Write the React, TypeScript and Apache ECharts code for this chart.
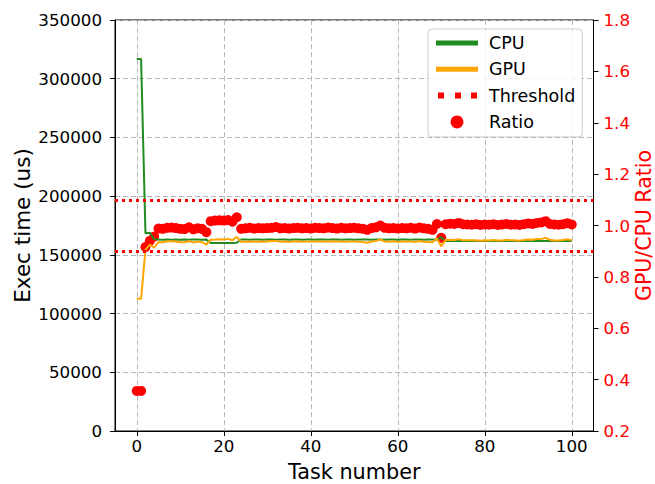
import React, { useEffect, useRef } from "react";
import * as echarts from "echarts";

const FONT = "DejaVu Sans";

const taskNumbers: number[] = Array.from({ length: 101 }, (_, i) => i);

const cpuTime: number[] = [
  316700, 316700, 168500, 168800, 163200, 163000, 162900, 163100, 162900, 163000,
  162800, 163100, 162900, 163000, 163100, 162900, 163000, 160200, 160000, 160100,
  160000, 160200, 160100, 160300, 163100, 163000, 162900, 163100, 163000, 162900,
  163000, 163100, 162900, 163000, 163100, 162900, 163000, 163100, 162900, 163000,
  163100, 162900, 163000, 163100, 162900, 163000, 163100, 162900, 163000, 163100,
  162900, 163000, 163100, 163000, 162900, 163000, 163100, 162900, 163000, 163100,
  162900, 163000, 163100, 162900, 163000, 163100, 162900, 163000, 163100, 162900,
  165000, 161800, 161700, 161900, 161800, 161700, 161800, 161900, 161700, 161800,
  161900, 161700, 161800, 161900, 161700, 161800, 161900, 161700, 161800, 161900,
  161700, 161800, 161900, 161700, 161800, 161900, 161700, 161800, 161900, 161700,
  161800,
];

const gpuTime: number[] = [
  112700, 112700, 154300, 158700, 156200, 161000, 160800, 161600, 161600, 161400,
  160700, 160800, 161800, 160600, 161300, 160800, 158800, 162900, 163000, 163300,
  163000, 163600, 162500, 165400, 161000, 161200, 161400, 161100, 161400, 161100,
  161400, 161700, 161900, 161100, 161400, 161000, 161400, 161600, 161100, 161400,
  161300, 161400, 161400, 161300, 161600, 161400, 161300, 161400, 161100, 161400,
  161400, 161100, 161000, 160300, 161300, 161900, 163100, 161400, 161100, 161500,
  161000, 161400, 161300, 161400, 161000, 161800, 161100, 160900, 160700, 163900,
  157100, 162600, 162800, 162700, 163400, 162500, 162400, 162400, 162500, 162100,
  162500, 162200, 162600, 162200, 162300, 162800, 162400, 162400, 162100, 162700,
  163000, 162800, 163500, 163600, 164500, 162900, 162300, 162300, 162700, 163200,
  162400,
];

const ratioValues: number[] = [
  0.356, 0.356, 0.916, 0.94, 0.957, 0.988, 0.987, 0.991, 0.992, 0.99,
  0.987, 0.986, 0.993, 0.985, 0.989, 0.987, 0.974, 1.017, 1.019, 1.02,
  1.019, 1.021, 1.015, 1.032, 0.987, 0.989, 0.991, 0.988, 0.99, 0.989,
  0.99, 0.991, 0.994, 0.989, 0.99, 0.988, 0.99, 0.991, 0.989, 0.99,
  0.988, 0.991, 0.99, 0.989, 0.992, 0.99, 0.988, 0.991, 0.989, 0.99,
  0.991, 0.989, 0.987, 0.983, 0.99, 0.993, 1.0, 0.991, 0.989, 0.99,
  0.988, 0.99, 0.989, 0.991, 0.988, 0.992, 0.989, 0.987, 0.983, 1.006,
  0.952, 1.005, 1.007, 1.006, 1.01, 1.005, 1.004, 1.003, 1.005, 1.002,
  1.004, 1.003, 1.005, 1.002, 1.004, 1.006, 1.003, 1.004, 1.002, 1.005,
  1.008, 1.006, 1.01, 1.012, 1.017, 1.006, 1.004, 1.003, 1.005, 1.009,
  1.004,
];

const thresholds: number[] = [0.9, 1.1];
const xTickValues: number[] = [0, 20, 40, 60, 80, 100];
const seriesNames: string[] = ["CPU", "GPU", "Threshold", "Ratio"];

const GREEN = "#228B22";
const ORANGE = "#FFA500";
const RED = "#FF0000";

export default function App() {
  const ref = useRef<HTMLDivElement>(null);
  useEffect(() => {
    document.body.style.margin = "0";
    if (!ref.current) return;
    const chart = echarts.init(ref.current, undefined, { renderer: "svg" });
    const grid = "#b8b8b8";
    const option: any = {
      animation: false,
      textStyle: { fontFamily: FONT },
      grid: {
        left: 115,
        right: 61.5,
        top: 20,
        bottom: 53,
        show: true,
        borderColor: "#000",
        borderWidth: 1,
        backgroundColor: "transparent",
        containLabel: false,
        outerBoundsMode: "none",
      },
      legend: {
        orient: "vertical",
        left: 428,
        top: 29,
        padding: [4, 7, 5, 8],
        itemWidth: 48,
        itemHeight: 20,
        itemGap: 6.3,
        selectedMode: false,
        backgroundColor: "rgba(255,255,255,0.8)",
        borderColor: "#cccccc",
        borderWidth: 1,
        borderRadius: 4,
        itemStyle: { borderWidth: 0 },
        textStyle: { fontSize: 17.5, color: "#000", fontFamily: FONT, lineHeight: 20 },
        data: [
          {
            name: seriesNames[0],
            icon: "path://M0,0M48,20M0,7.5L42,7.5L42,12.5L0,12.5Z",
            itemStyle: { color: GREEN, borderWidth: 0 },
          },
          {
            name: seriesNames[1],
            icon: "path://M0,0M48,20M0,7.5L42,7.5L42,12.5L0,12.5Z",
            itemStyle: { color: ORANGE, borderWidth: 0 },
          },
          {
            name: seriesNames[2],
            icon: "path://M0,0M48,20M2,7L8,7L8,13L2,13ZM19,7L25,7L25,13L19,13ZM35,7L41,7L41,13L35,13Z",
            itemStyle: { color: RED, borderWidth: 0 },
          },
          {
            name: seriesNames[3],
            icon: "path://M0,0M48,20M14.5,10A6.5,6.5,0,1,0,27.5,10A6.5,6.5,0,1,0,14.5,10Z",
            itemStyle: { color: RED, borderWidth: 0 },
          },
        ],
      },
      xAxis: {
        type: "value",
        min: -5,
        max: 105,
        name: "Task number",
        nameLocation: "middle",
        nameGap: 30,
        nameMoveOverlap: false,
        nameTextStyle: { fontSize: 20.8, color: "#000", fontFamily: FONT },
        axisLine: { show: true, onZero: false, lineStyle: { color: "#000", width: 1 } },
        axisTick: { show: true, length: 5, lineStyle: { color: "#000" }, customValues: xTickValues },
        axisLabel: {
          customValues: xTickValues,
          fontSize: 16.7,
          color: "#000",
          margin: 6,
          fontFamily: FONT,
          formatter: (v: number) => String(v),
        },
        splitLine: { show: true, lineStyle: { color: grid, type: [5, 3], width: 1 } },
      },
      yAxis: [
        {
          type: "value",
          position: "left",
          min: 0,
          max: 350000,
          interval: 50000,
          name: "Exec time (us)",
          nameLocation: "middle",
          nameRotate: 90,
          nameGap: 82,
          nameMoveOverlap: false,
          nameTextStyle: { fontSize: 21.5, color: "#000", fontFamily: FONT },
          axisLine: { show: true, onZero: false, lineStyle: { color: "#000", width: 1 } },
          axisTick: { show: true, length: 5, lineStyle: { color: "#000" } },
          axisLabel: {
            fontSize: 16.7,
            color: "#000",
            margin: 13,
            fontFamily: FONT,
            formatter: (v: number) => String(v),
          },
          splitLine: { show: true, lineStyle: { color: grid, type: [5, 3], width: 1 } },
        },
        {
          type: "value",
          position: "right",
          min: 0.2,
          max: 1.8,
          interval: 0.2,
          name: "GPU/CPU Ratio",
          nameLocation: "middle",
          nameRotate: 90,
          nameGap: 40,
          nameMoveOverlap: false,
          nameTextStyle: { fontSize: 20.5, color: RED, fontFamily: FONT, lineHeight: 20 },
          axisLine: { show: true, onZero: false, lineStyle: { color: "#000", width: 1 } },
          axisTick: { show: true, length: 5, lineStyle: { color: "#000" } },
          axisLabel: {
            fontSize: 16.7,
            color: RED,
            margin: 10,
            fontFamily: FONT,
            formatter: (v: number) => v.toFixed(1),
          },
          splitLine: { show: false },
        },
      ],
      series: [
        {
          name: seriesNames[0],
          type: "line",
          yAxisIndex: 0,
          data: taskNumbers.map((x, i) => [x, cpuTime[i]]),
          symbol: "none",
          showSymbol: false,
          color: GREEN,
          lineStyle: { color: GREEN, width: 2 },
          emphasis: { disabled: true },
        },
        {
          name: seriesNames[1],
          type: "line",
          yAxisIndex: 0,
          data: taskNumbers.map((x, i) => [x, gpuTime[i]]),
          symbol: "none",
          showSymbol: false,
          color: ORANGE,
          lineStyle: { color: ORANGE, width: 2 },
          emphasis: { disabled: true },
        },
        {
          name: seriesNames[2],
          type: "line",
          yAxisIndex: 1,
          data: [],
          color: RED,
          markLine: {
            silent: true,
            symbol: ["none", "none"],
            label: { show: false },
            emphasis: { disabled: true },
            lineStyle: { color: RED, type: [3, 4], width: 3, cap: "butt" },
            data: thresholds.map((v) => ({ yAxis: v })),
          },
        },
        {
          name: seriesNames[3],
          type: "scatter",
          yAxisIndex: 1,
          data: taskNumbers.map((x, i) => [x, ratioValues[i]]),
          symbol: "circle",
          symbolSize: 10,
          color: RED,
          itemStyle: { color: RED, borderWidth: 0, opacity: 1 },
          emphasis: { disabled: true },
        },
      ],
    };
    chart.setOption(option);
    return () => chart.dispose();
  }, []);
  return <div ref={ref} style={{ width: 655, height: 484 }} />;
}
